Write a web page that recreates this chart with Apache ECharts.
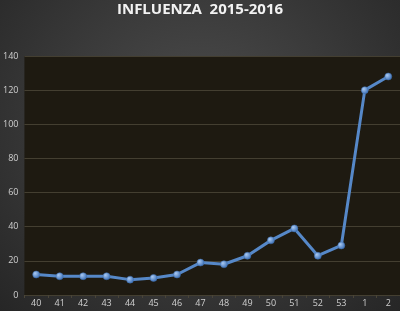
<!DOCTYPE html>
<html><head><meta charset="utf-8">
<script src="https://cdn.jsdelivr.net/npm/echarts@6/dist/echarts.min.js"></script>
<style>
html,body{margin:0;padding:0;}
body{width:400px;height:311px;background:radial-gradient(ellipse at 50% 40%, #4d4d4d 0%, #3a3a3a 50%, #262626 100%);}
#c{width:400px;height:311px;}
</style></head><body><div id="c"></div>
<script>
const titleText = 'INFLUENZA  2015-2016';
const weeks = ['40','41','42','43','44','45','46','47','48','49','50','51','52','53','1','2'];
const cases = [12,11,11,11,9,10,12,19,18,23,32,39,23,29,120,128];
const yTicks = {min:0, max:140, interval:20};

const chart = echarts.init(document.getElementById('c'), null, {renderer:'canvas'});
chart.setOption({
  backgroundColor:'transparent',
  animation:false,
  title:{text:titleText,left:'center',top:-3,textStyle:{color:'#f2f2f2',fontFamily:'Open Sans',fontWeight:'bold',fontSize:15}},
  grid:{left:24,right:0,top:56,bottom:16,show:true,backgroundColor:'#1e1a11',borderWidth:0},
  xAxis:{type:'category',data:weeks,boundaryGap:true,
    axisLine:{show:false},
    axisTick:{show:true,length:3,lineStyle:{color:'#4a4538'}},
    axisLabel:{color:'#d0d0d0',fontSize:9,fontFamily:'Open Sans',margin:4},
    splitLine:{show:false}},
  yAxis:{type:'value',min:yTicks.min,max:yTicks.max,interval:yTicks.interval,
    axisLine:{show:false},axisTick:{show:false},
    axisLabel:{color:'#d0d0d0',fontSize:9,fontFamily:'Open Sans',margin:6},
    splitLine:{lineStyle:{color:'#443f31',width:1}}},
  series:[{type:'line',data:cases,symbol:'circle',symbolSize:7,
    lineStyle:{color:'#5688c8',width:3},
    itemStyle:{color:new echarts.graphic.RadialGradient(0.35,0.35,0.7,[{offset:0,color:'#a9c9f2'},{offset:1,color:'#3a6eb5'}]),borderColor:'#3f6fae',borderWidth:0.5}}]
});
</script></body></html>
